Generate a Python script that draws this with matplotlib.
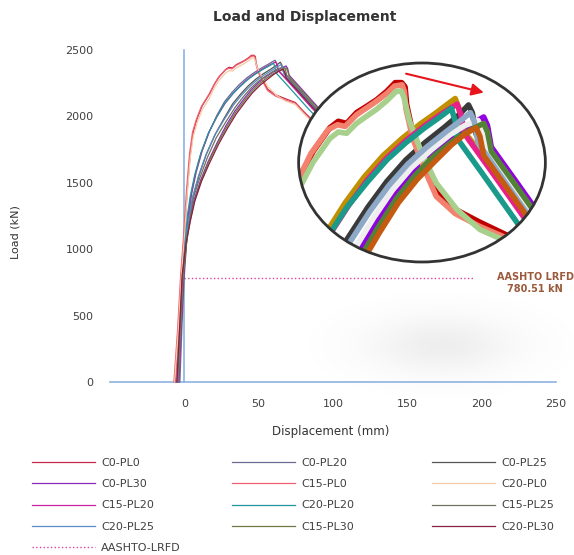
import numpy as np
import matplotlib
matplotlib.use('Agg')
import matplotlib.pyplot as plt
from matplotlib.patches import Ellipse

# Load–displacement curves (x in mm, y in kN)
c0_pl0_x = [-6, -4, -2, 0, 2, 4, 6, 8.5, 12, 17, 20.6, 23.6, 28, 30.2, 32.4, 35, 37.7, 40.3, 43, 45.2, 46.9, 47.8, 48.2, 50, 53.5, 56, 61, 67.5, 74.6, 80, 88, 95]
c0_pl0_y = [0, 400, 800, 1100, 1450, 1720, 1880, 1980, 2080, 2170, 2250, 2300, 2355, 2370, 2365, 2390, 2405, 2420, 2440, 2460, 2460, 2450, 2410, 2335, 2260, 2205, 2165, 2135, 2105, 2040, 1950, 1880]

c15_pl0_x = [-7, -4.5, -2.5, -0.5, 1.5, 3.5, 5.5, 8, 11.5, 16.5, 20, 23, 27.5, 30, 32, 35, 37.5, 40, 43, 45, 47, 47.6, 48, 49.8, 53.3, 56, 61, 67.5, 74.6, 80, 88, 95]
c15_pl0_y = [0, 400, 800, 1100, 1450, 1720, 1880, 1975, 2075, 2165, 2240, 2295, 2350, 2362, 2358, 2385, 2400, 2415, 2435, 2452, 2455, 2440, 2400, 2330, 2250, 2195, 2155, 2125, 2098, 2030, 1940, 1870]

c20_pl0_x = [-6.5, -4, -2, 0, 2, 4, 6, 8.5, 12, 17, 20.6, 23.6, 28, 30.2, 32.4, 35, 37.7, 40.3, 43, 45.5, 46.8, 47.5, 49, 52, 56, 61.5, 67.5, 74.6, 80, 88, 95]
c20_pl0_y = [0, 400, 800, 1080, 1420, 1690, 1850, 1950, 2050, 2140, 2225, 2275, 2330, 2345, 2342, 2365, 2382, 2398, 2418, 2440, 2440, 2425, 2370, 2300, 2226, 2164, 2118, 2090, 2025, 1935, 1865]

c0_pl20_x = [-3, -1.5, 0, 1.5, 3, 5, 8, 12, 17, 22, 27, 32, 37, 42, 47, 52, 56, 59, 61, 62, 63, 70, 78, 86, 94, 100]
c0_pl20_y = [0, 450, 800, 1050, 1250, 1420, 1580, 1740, 1890, 2010, 2110, 2180, 2240, 2290, 2330, 2365, 2390, 2410, 2423, 2400, 2350, 2270, 2170, 2070, 1980, 1920]

c15_pl20_x = [-3.5, -2, -0.5, 1, 2.5, 4.5, 7.5, 11.5, 16.5, 22, 27.5, 33, 38, 43, 48, 53, 57, 60, 61.5, 62.5, 63.5, 70, 78, 86, 94, 100]
c15_pl20_y = [0, 450, 800, 1050, 1250, 1410, 1570, 1730, 1880, 2000, 2100, 2175, 2235, 2285, 2325, 2360, 2385, 2402, 2410, 2385, 2340, 2260, 2160, 2060, 1970, 1910]

c20_pl20_x = [-4, -2.5, -1, 0.5, 2, 4, 7, 11, 16, 21.5, 27, 32.5, 38, 43, 48, 53, 57, 60, 61, 61.5, 68, 76, 84, 92, 100]
c20_pl20_y = [0, 450, 800, 1050, 1250, 1400, 1560, 1720, 1870, 1990, 2095, 2170, 2230, 2280, 2320, 2355, 2380, 2400, 2370, 2330, 2250, 2150, 2050, 1960, 1880]

c0_pl25_x = [-4, -2, -0.5, 1.5, 3.5, 6, 10, 15, 21, 27, 32.5, 38, 43, 48, 53, 58, 62, 64.5, 65.5, 66.5, 73, 81, 89, 97, 102]
c0_pl25_y = [0, 450, 800, 1050, 1240, 1400, 1560, 1720, 1870, 1990, 2095, 2170, 2230, 2280, 2320, 2355, 2385, 2408, 2390, 2340, 2250, 2150, 2050, 1960, 1910]

c20_pl25_x = [-4.5, -2.5, -1, 1, 3, 5.5, 9.5, 14.5, 20.5, 27, 33, 38.5, 43.5, 48.5, 53.5, 58.5, 62.5, 65, 66, 67, 74, 82, 90, 98, 103]
c20_pl25_y = [0, 450, 800, 1050, 1230, 1390, 1550, 1710, 1860, 1980, 2085, 2160, 2220, 2270, 2310, 2345, 2372, 2390, 2370, 2320, 2230, 2130, 2030, 1940, 1890]

c15_pl25_x = [-4.5, -2.5, -1, 1.2, 3.5, 6, 10.5, 15.5, 21.5, 28, 34, 39.5, 44.5, 49.5, 54.5, 59.5, 63.5, 67, 68, 69, 76, 84, 92, 100, 104]
c15_pl25_y = [0, 450, 800, 1050, 1230, 1385, 1540, 1690, 1840, 1960, 2065, 2145, 2210, 2262, 2302, 2338, 2360, 2372, 2352, 2305, 2220, 2120, 2020, 1935, 1890]

c0_pl30_x = [-5, -3, -1.5, 1, 3.5, 6.5, 11, 16, 22, 28, 34, 40, 45, 50, 55, 60, 65, 68.5, 69.5, 70.5, 77, 85, 93, 100, 105]
c0_pl30_y = [0, 450, 800, 1050, 1220, 1370, 1520, 1660, 1800, 1930, 2040, 2130, 2200, 2255, 2300, 2335, 2362, 2380, 2360, 2310, 2230, 2130, 2030, 1950, 1900]

c15_pl30_x = [-4.5, -2.5, -1, 1.5, 4, 7, 11.5, 16.5, 22.5, 28.5, 34.5, 40.5, 45.5, 50.5, 55.5, 60.5, 65, 68.5, 69.5, 70.5, 77, 85, 93, 100, 105]
c15_pl30_y = [0, 450, 800, 1050, 1220, 1370, 1520, 1660, 1800, 1920, 2030, 2120, 2190, 2245, 2290, 2325, 2350, 2365, 2345, 2300, 2220, 2120, 2020, 1940, 1890]

c20_pl30_x = [-5, -3, -1.5, 1.2, 4, 7, 11.5, 17, 23, 29, 35, 41, 46, 51, 56, 60, 63.5, 66.5, 67.5, 68.5, 75, 83, 91, 99, 104]
c20_pl30_y = [0, 450, 800, 1050, 1210, 1360, 1510, 1650, 1790, 1910, 2020, 2110, 2180, 2235, 2280, 2315, 2340, 2355, 2335, 2290, 2210, 2110, 2010, 1930, 1880]

aashto_load = 780.51
aashto_x = [0, 195]

series = [
    ('C0-PL0', c0_pl0_x, c0_pl0_y, '#c8284a', '#c00000'),
    ('C0-PL20', c0_pl20_x, c0_pl20_y, '#6a6a92', '#c09000'),
    ('C0-PL25', c0_pl25_x, c0_pl25_y, '#555555', '#3a3a3a'),
    ('C0-PL30', c0_pl30_x, c0_pl30_y, '#8a2ab8', '#9000e0'),
    ('C15-PL0', c15_pl0_x, c15_pl0_y, '#f06070', '#f4806e'),
    ('C20-PL0', c20_pl0_x, c20_pl0_y, '#f5cba7', '#a8d08d'),
    ('C15-PL20', c15_pl20_x, c15_pl20_y, '#c820a0', '#e8208a'),
    ('C20-PL20', c20_pl20_x, c20_pl20_y, '#2096a0', '#1a9a8a'),
    ('C15-PL25', c15_pl25_x, c15_pl25_y, '#727262', '#eeeeee'),
    ('C20-PL25', c20_pl25_x, c20_pl25_y, '#5a8ac0', '#8ea9c8'),
    ('C15-PL30', c15_pl30_x, c15_pl30_y, '#6e7a40', '#538135'),
    ('C20-PL30', c20_pl30_x, c20_pl30_y, '#8a2040', '#c55a11'),
]

W, H = 574, 555
fig = plt.figure(figsize=(W / 100, H / 100), dpi=100)

# soft shadow under the magnifier
shadow = fig.add_axes([310 / W, 1 - 410 / H, 264 / W, 130 / H], zorder=-1)
shadow.axis('off')
gx, gy = np.meshgrid(np.linspace(-1, 1, 200), np.linspace(-1, 1, 100))
rgba = np.zeros((100, 200, 4))
rgba[..., :3] = 0.5
rgba[..., 3] = 0.13 * np.exp(-(gx ** 2 / 0.3 + gy ** 2 / 0.2))
shadow.imshow(rgba, extent=[0, 1, 0, 1], aspect='auto')

ax = fig.add_axes([110 / W, 1 - 382 / H, 446 / W, 332 / H])
ax.set_facecolor('none')
for s in ax.spines.values():
    s.set_visible(False)
ax.set_xlim(-50, 250)
ax.set_ylim(0, 2500)
ax.set_xticks(range(0, 251, 50))
ax.set_yticks(range(0, 2501, 500))
ax.tick_params(length=0, labelsize=8, labelcolor='#404040', pad=12)

ax.plot([-50, 250], [0, 0], color='#8db3e2', lw=1.2, clip_on=False, zorder=1)
ax.plot([0, 0], [0, 2500], color='#8db3e2', lw=1.2, clip_on=False, zorder=1)

handles = {}
for name, xs, ys, col, _ in series:
    ln, = ax.plot(xs, ys, color=col, lw=0.9, label=name, zorder=3, clip_on=False)
    handles[name] = ln
ln, = ax.plot(aashto_x, [aashto_load] * 2, color='#e040a0', lw=1, ls=':', label='AASHTO-LRFD', zorder=2)
handles['AASHTO-LRFD'] = ln

ax.text(236, 745, 'AASHTO LRFD\n%.2f kN' % aashto_load, ha='center', va='center', fontsize=7,
        weight='bold', color='#9c5a3c', clip_on=False, linespacing=1.15)

# magnifier inset
axin = fig.add_axes([298 / W, 1 - 263 / H, 248 / W, 201 / H])
axin.axis('off')
axin.set_xlim(19.6, 84.9)
axin.set_ylim(2040, 2508)
bg = Ellipse((0.5, 0.5), 1, 1, transform=axin.transAxes, facecolor='white', edgecolor='none', zorder=0)
axin.add_patch(bg)
for name, xs, ys, _, icol in series:
    l, = axin.plot(xs, ys, color=icol, lw=4, solid_joinstyle='round', solid_capstyle='round', zorder=2)
    l.set_clip_path(bg)
axin.add_patch(Ellipse((0.5, 0.5), 0.995, 0.99, transform=axin.transAxes, fill=False,
                       edgecolor='#333333', lw=2, zorder=5, clip_on=False))
axin.annotate('', xy=(0.76, 0.845), xytext=(0.425, 0.945), xycoords='axes fraction',
              arrowprops=dict(arrowstyle='-|>', color='#e8141c', lw=1.5, mutation_scale=18))

fig.text(305 / W, 1 - 17 / H, 'Load and Displacement', ha='center', va='center', fontsize=10,
         weight='bold', color='#333333')
fig.text(331 / W, 1 - 432 / H, 'Displacement (mm)', ha='center', va='center', fontsize=8.5, color='#333333')
fig.text(15 / W, 1 - 232 / H, 'Load (kN)', ha='center', va='center', rotation=90, fontsize=8, color='#333333')

columns = [
    (['C0-PL0', 'C0-PL30', 'C15-PL20', 'C20-PL25', 'AASHTO-LRFD'], 31.7),
    (['C0-PL20', 'C15-PL0', 'C20-PL20', 'C15-PL30'], 231.7),
    (['C0-PL25', 'C20-PL0', 'C15-PL25', 'C20-PL30'], 431.7),
]
for names, x0 in columns:
    fig.legend([handles[n] for n in names], names, loc='upper left', bbox_to_anchor=(x0 / W, 1 - 457.5 / H),
               frameon=False, fontsize=8, handlelength=5.7, handletextpad=0.55, labelspacing=1.03,
               borderpad=0, borderaxespad=0, labelcolor='#404040')

fig.savefig('out.png', dpi=100)
